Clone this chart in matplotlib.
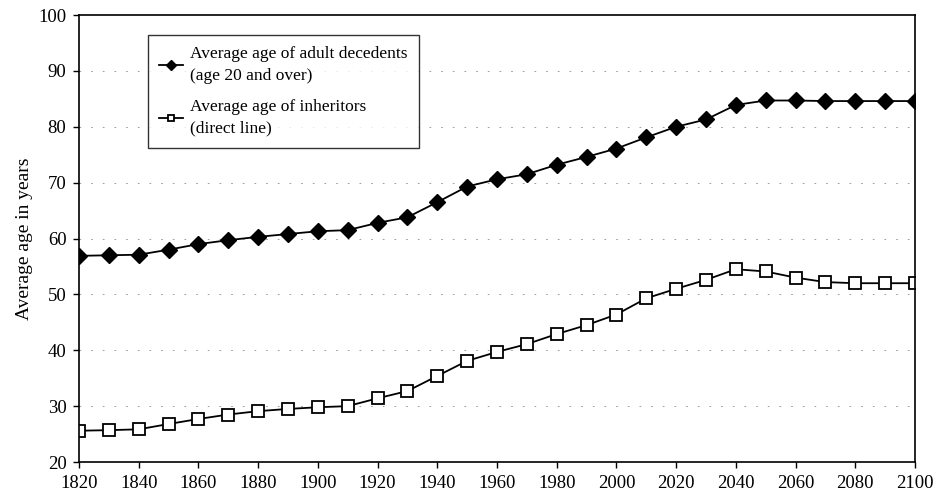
import numpy as np
import matplotlib
matplotlib.use("Agg")
import matplotlib.pyplot as plt

years = list(range(1820, 2101, 10))
decedents = [56.9, 57.0, 57.1, 58.0, 59.0, 59.7, 60.3, 60.8, 61.3, 61.5, 62.8, 63.8,
             66.5, 69.3, 70.6, 71.5, 73.2, 74.6, 76.1, 78.1, 80.0, 81.3, 83.9, 84.7,
             84.7, 84.6, 84.6, 84.6, 84.6]
inheritors = [25.6, 25.7, 25.85, 26.8, 27.7, 28.5, 29.1, 29.5, 29.8, 30.0, 31.4, 32.7,
              35.4, 38.1, 39.7, 41.1, 42.9, 44.5, 46.4, 49.3, 51.0, 52.6, 54.5, 54.1,
              53.0, 52.2, 52.0, 52.0, 52.0]
xticks = list(range(1820, 2101, 20))
yticks = list(range(20, 101, 10))

plt.rcParams['font.family'] = ['Liberation Serif', 'DejaVu Serif']

fig = plt.figure(figsize=(9.37, 4.97), dpi=100)
ax = fig.add_axes([0.0843, 0.0704, 0.8922, 0.8994])

ax.plot(years, decedents, color='black', lw=1.3, marker='D', ms=8.5,
        mfc='black', mec='black', label='Average age of adult decedents\n(age 20 and over)')
ax.plot(years, inheritors, color='black', lw=1.3, marker='s', ms=8,
        mfc='white', mec='black', mew=1.3, label='Average age of inheritors\n(direct line)')

ax.set_xlim(1820, 2100)
ax.set_ylim(20, 100)
ax.set_xticks(xticks)
ax.set_yticks(yticks)
ax.tick_params(labelsize=13.5, length=4, width=1, pad=5)
ax.set_ylabel('Average age in years', fontsize=14, labelpad=4)
for y in yticks[1:-1]:
    ax.axhline(y, color='0.55', lw=0.6, ls=(0, (2, 12)), zorder=0)
for s in ax.spines.values():
    s.set_linewidth(1.2)

leg = ax.legend(loc='upper left', bbox_to_anchor=(0.072, 0.975), fontsize=12.5,
                frameon=True, fancybox=False, edgecolor='black', markerscale=0.55,
                handlelength=1.4, handletextpad=0.4, labelspacing=0.9, borderpad=0.65)
for t in leg.get_texts():
    t.set_linespacing(1.45)
leg.get_frame().set_linewidth(1.0)

fig.savefig('out.png', dpi=100)
